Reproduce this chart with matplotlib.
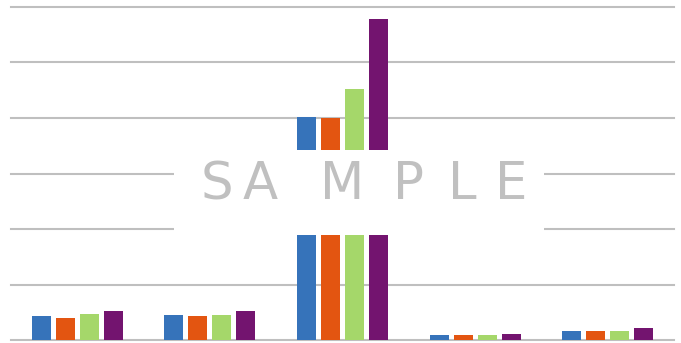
import matplotlib
matplotlib.use("Agg")
import matplotlib.pyplot as plt
import matplotlib.patches as mpatches
import numpy as np

# values (one gridline = 10)
categories = ["A", "B", "C", "D", "E"]
series_1 = [4.35, 4.6, 40.1, 1.0, 1.7]
series_2 = [4.1, 4.3, 39.9, 0.9, 1.6]
series_3 = [4.7, 4.5, 45.2, 1.0, 1.75]
series_4 = [5.3, 5.3, 57.8, 1.2, 2.15]
grid_values = [0, 10, 20, 30, 40, 50, 60]
watermark = "SAMPLE"

colors = ["#3673BA", "#E35511", "#A5D76A", "#73146F"]
W, H = 681, 343

fig = plt.figure(figsize=(W / 100, H / 100), dpi=100)
ax = fig.add_axes([11 / W, 2.7 / H, 663 / W, 333.6 / H])

x = np.arange(len(categories))
step = 0.181
width = 0.1433
all_series = [series_1, series_2, series_3, series_4]
for i, vals in enumerate(all_series):
    ax.bar(x + (i - 1.5) * step, vals, width, color=colors[i], zorder=3)

# horizontal gridlines, not clipped so the top one shows fully
for g in grid_values:
    ax.axhline(g, color="#BFBFBF", lw=1.5, zorder=1, clip_on=False)

ax.set_xlim(-0.5, len(categories) - 0.5)
ax.set_ylim(0, 60)
ax.set_xticks([])
ax.set_yticks([])
for s in ax.spines.values():
    s.set_visible(False)

# white box behind the watermark
box = mpatches.Rectangle((174 / W, (H - 235) / H), 370 / W, 85 / H,
                         transform=fig.transFigure, facecolor="white",
                         edgecolor="none", zorder=5)
fig.add_artist(box)

# letters spread out like the stretched watermark
letter_x = [216.5, 260, 342.5, 408, 462, 511]
for ch, lx in zip(watermark, letter_x):
    fig.text(lx / W, (H - 185) / H, ch, fontsize=37, color="#C0C0C0",
             family="DejaVu Sans", ha="center", va="center", zorder=6)

fig.savefig("out.png", dpi=100)
